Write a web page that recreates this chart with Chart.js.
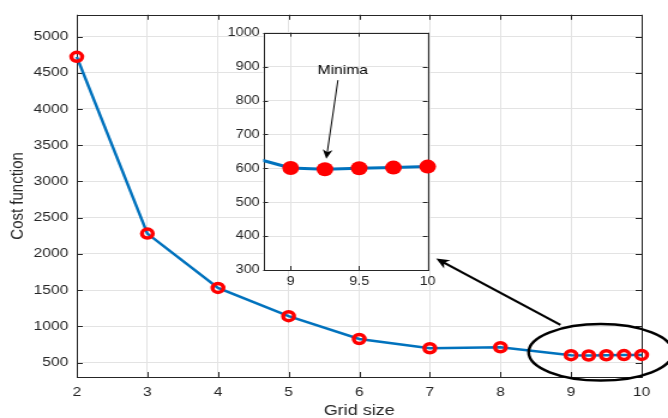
<!DOCTYPE html>
<html lang="en">
<head>
<meta charset="UTF-8">
<title>Cost function vs grid size</title>
<script src="https://cdn.jsdelivr.net/npm/chart.js"></script>
<style>
  body { margin: 0; background: #fff; }
  #wrap { position: relative; width: 668px; height: 418px; }
  #wrap canvas { position: absolute; left: 0; top: 0; }
</style>
</head>
<body>
<div id="wrap">
  <canvas id="mainChart" width="557" height="418" style="width:668px;height:418px"></canvas>
  <canvas id="insetChart" width="557" height="418" style="width:668px;height:418px"></canvas>
</div>
<script>
// data
const gridSize   = [2, 3, 4, 5, 6, 7, 8, 9, 9.25, 9.5, 9.75, 10];
const costValues = [4720, 2280, 1530, 1140, 825, 697, 711, 601, 597, 600, 602, 605];

const mainXTicks  = [2, 3, 4, 5, 6, 7, 8, 9, 10];
const mainYTicks  = [500, 1000, 1500, 2000, 2500, 3000, 3500, 4000, 4500, 5000];
const insetXTicks = [9, 9.5, 10];
const insetYTicks = [300, 400, 500, 600, 700, 800, 900, 1000];

// annotations, in data units of the chart they sit on
const ellipseMark  = { x: 9.42, y: 640, rx: 1.02, ry: 390 };
const bigArrow     = { from: [8.85, 1020], to: [7.09, 1935] };
const minimaArrow  = { from: [9.345, 860], to: [9.26, 628] };
const minimaLabel  = { text: 'Minima', x: 9.38, y: 890 };

const FONT = "'Liberation Sans', Arial, sans-serif";
const TEXT = '#262626';
const GRID = '#e3e3e3';
const BLUE = '#0072BD';

const points = gridSize.map((g, i) => ({ x: g, y: costValues[i] }));

function setTicks(list) {
  return scale => { scale.ticks = list.map(v => ({ value: v })); };
}
const plain = v => String(v);

function frame(tickLen) {
  return {
    id: 'frame',
    beforeDatasetsDraw(chart) {
      const { ctx, chartArea: a, scales: { x, y } } = chart;
      ctx.save();
      ctx.strokeStyle = TEXT;
      ctx.lineWidth = 1;
      ctx.beginPath();
      x.ticks.forEach(t => {
        const px = Math.round(x.getPixelForValue(t.value)) + 0.5;
        ctx.moveTo(px, a.bottom); ctx.lineTo(px, a.bottom - tickLen);
        ctx.moveTo(px, a.top); ctx.lineTo(px, a.top + tickLen);
      });
      y.ticks.forEach(t => {
        const py = Math.round(y.getPixelForValue(t.value)) + 0.5;
        ctx.moveTo(a.left, py); ctx.lineTo(a.left + tickLen, py);
        ctx.moveTo(a.right, py); ctx.lineTo(a.right - tickLen, py);
      });
      ctx.stroke();
      ctx.strokeRect(Math.round(a.left) + 0.5, Math.round(a.top) + 0.5,
                     Math.round(a.right - a.left), Math.round(a.bottom - a.top));
      ctx.restore();
    }
  };
}

function drawArrow(ctx, x0, y0, x1, y1, head, width) {
  const ang = Math.atan2(y1 - y0, x1 - x0);
  ctx.lineWidth = width;
  ctx.beginPath();
  ctx.moveTo(x0, y0);
  ctx.lineTo(x1 - Math.cos(ang) * head * 0.6, y1 - Math.sin(ang) * head * 0.6);
  ctx.stroke();
  ctx.beginPath();
  ctx.moveTo(x1, y1);
  ctx.lineTo(x1 - head * Math.cos(ang - 0.42), y1 - head * Math.sin(ang - 0.42));
  ctx.lineTo(x1 - head * 0.65 * Math.cos(ang), y1 - head * 0.65 * Math.sin(ang));
  ctx.lineTo(x1 - head * Math.cos(ang + 0.42), y1 - head * Math.sin(ang + 0.42));
  ctx.closePath();
  ctx.fill();
}

const mainNotes = {
  id: 'mainNotes',
  afterDraw(chart) {
    const { ctx, scales: { x, y } } = chart;
    ctx.save();
    ctx.strokeStyle = '#000';
    ctx.fillStyle = '#000';
    const cx = x.getPixelForValue(ellipseMark.x);
    const cy = y.getPixelForValue(ellipseMark.y);
    const rx = x.getPixelForValue(ellipseMark.x + ellipseMark.rx) - cx;
    const ry = cy - y.getPixelForValue(ellipseMark.y + ellipseMark.ry);
    ctx.lineWidth = 2.5;
    ctx.beginPath();
    ctx.ellipse(cx, cy, rx, ry, 0, 0, Math.PI * 2);
    ctx.stroke();
    drawArrow(ctx,
      x.getPixelForValue(bigArrow.from[0]), y.getPixelForValue(bigArrow.from[1]),
      x.getPixelForValue(bigArrow.to[0]), y.getPixelForValue(bigArrow.to[1]), 12, 2.2);
    ctx.restore();
  }
};

const insetNotes = {
  id: 'insetNotes',
  beforeDraw(chart) {
    const { ctx, chartArea: a } = chart;
    ctx.save();
    ctx.fillStyle = '#fff';
    ctx.fillRect(a.left, a.top, a.right - a.left, a.bottom - a.top);
    ctx.restore();
  },
  afterDraw(chart) {
    const { ctx, scales: { x, y } } = chart;
    ctx.save();
    ctx.strokeStyle = '#000';
    ctx.fillStyle = '#000';
    drawArrow(ctx,
      x.getPixelForValue(minimaArrow.from[0]), y.getPixelForValue(minimaArrow.from[1]),
      x.getPixelForValue(minimaArrow.to[0]), y.getPixelForValue(minimaArrow.to[1]), 10, 1);
    ctx.font = '13px ' + FONT;
    ctx.textAlign = 'center';
    ctx.textBaseline = 'middle';
    ctx.fillText(minimaLabel.text, x.getPixelForValue(minimaLabel.x), y.getPixelForValue(minimaLabel.y));
    ctx.restore();
  }
};

new Chart(document.getElementById('mainChart'), {
  type: 'line',
  data: {
    datasets: [{
      data: points,
      borderColor: BLUE,
      borderWidth: 2.5,
      pointRadius: 4.5,
      pointBorderWidth: 3.5,
      pointBorderColor: '#ff0000',
      pointBackgroundColor: 'rgba(0,0,0,0)',
      tension: 0,
      clip: false
    }]
  },
  options: {
    responsive: false,
    animation: false,
    events: [],
    layout: { padding: { left: 0, top: 13, right: 22, bottom: 0 } },
    plugins: { legend: { display: false }, tooltip: { enabled: false } },
    scales: {
      x: {
        type: 'linear', min: 2, max: 10,
        afterBuildTicks: setTicks(mainXTicks),
        afterFit: s => { s.height = 41; },
        grid: { color: GRID, drawTicks: false },
        border: { display: false },
        ticks: { color: TEXT, font: { family: FONT, size: 13 }, padding: 8, maxRotation: 0, callback: plain },
        title: { display: true, text: 'Grid size', color: TEXT, font: { family: FONT, size: 15, lineHeight: 1 }, padding: { top: 0, bottom: 0 } }
      },
      y: {
        min: 300, max: 5300,
        afterBuildTicks: setTicks(mainYTicks),
        afterFit: s => { s.width = 64; },
        grid: { color: GRID, drawTicks: false },
        border: { display: false },
        ticks: { color: TEXT, font: { family: FONT, size: 13 }, padding: 7, callback: plain },
        title: { display: true, text: 'Cost function', color: TEXT, font: { family: FONT, size: 15 }, padding: { top: 6, bottom: 0 } }
      }
    }
  },
  plugins: [frame(5), mainNotes]
});

new Chart(document.getElementById('insetChart'), {
  type: 'line',
  data: {
    datasets: [{
      data: points,
      borderColor: BLUE,
      borderWidth: 3,
      pointRadius: 7,
      pointBorderWidth: 0,
      pointBackgroundColor: '#ff0000',
      tension: 0,
      clip: { left: 0, top: false, right: false, bottom: false }
    }]
  },
  options: {
    responsive: false,
    animation: false,
    events: [],
    layout: { padding: { left: 179.5, top: 32.7, right: 200.4, bottom: 118 } },
    plugins: { legend: { display: false }, tooltip: { enabled: false } },
    scales: {
      x: {
        type: 'linear', min: 8.8, max: 10,
        afterBuildTicks: setTicks(insetXTicks),
        afterFit: s => { s.height = 30; },
        grid: { color: GRID, drawTicks: false },
        border: { display: false },
        ticks: { color: TEXT, font: { family: FONT, size: 12 }, padding: 4, maxRotation: 0, callback: plain }
      },
      y: {
        min: 300, max: 1000,
        afterBuildTicks: setTicks(insetYTicks),
        afterFit: s => { s.width = 40; },
        grid: { color: GRID, drawTicks: false },
        border: { display: false },
        ticks: { color: TEXT, font: { family: FONT, size: 12 }, padding: 3, callback: plain }
      }
    }
  },
  plugins: [frame(4), insetNotes]
});
</script>
</body>
</html>
